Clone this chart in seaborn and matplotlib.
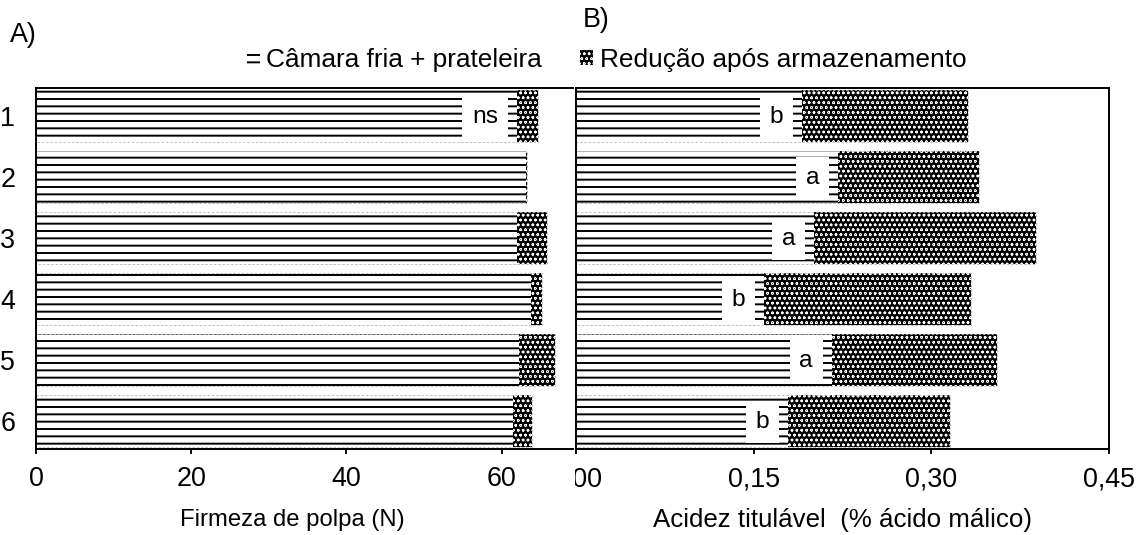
import matplotlib
matplotlib.use("Agg")
import matplotlib.pyplot as plt
import pandas as pd
import seaborn as sns
from matplotlib.patches import Patch, Rectangle

# Treatments (rows) and measured values
tratamentos = ["1", "2", "3", "4", "5", "6"]

# A) flesh firmness (N): value after cold storage + shelf, and loss during storage
firmeza_final = [62.0, 63.1, 62.0, 63.8, 62.2, 61.5]
firmeza_reducao = [2.7, 0.2, 3.8, 1.4, 4.7, 2.4]
firmeza_letras = ["ns", "", "", "", "", ""]

# B) titratable acidity (% malic acid)
acidez_final = [0.191, 0.2215, 0.201, 0.159, 0.216, 0.179]
acidez_reducao = [0.140, 0.1185, 0.187, 0.174, 0.139, 0.137]
acidez_letras = ["b", "a", "a", "b", "a", "b"]

xticks_a = [0, 20, 40, 60]
xticklabels_a = ["0", "20", "40", "60"]
xticks_b = [0.0, 0.15, 0.30, 0.45]
xticklabels_b = ["0,00", "0,15", "0,30", "0,45"]

serie_final = "Câmara fria + prateleira"
serie_reducao = "Redução após armazenamento"

DPI = 88
W, H = 1139, 535

sns.set_theme(style="white")
plt.rcParams["font.family"] = ["Liberation Sans", "DejaVu Sans"]
plt.rcParams["hatch.linewidth"] = 1.6
plt.rcParams["text.color"] = "black"
plt.rcParams["axes.labelcolor"] = "black"
plt.rcParams["xtick.color"] = "black"
plt.rcParams["ytick.color"] = "black"

fig = plt.figure(figsize=(W / DPI, H / DPI), dpi=DPI)
fig.patch.set_facecolor("white")


def px_axes(left, right, top, bottom):
    return fig.add_axes([left / W, 1 - bottom / H, (right - left) / W, (bottom - top) / H])


ax_b = px_axes(575.7, 1109.3, 88, 449)
ax_a = px_axes(36, 573, 88, 449)
ax_a.set_zorder(2)

BAR_H = 0.84
HL_HATCH = "--"
DOT_HATCH = "ooo"
DOT_LW = 0.6
TICK_FS = 22
TEXT_FS = 20
LEG_FS = 21.5


def draw_panel(ax, final, reducao, letras):
    total = [f + r for f, r in zip(final, reducao)]
    df = pd.DataFrame({"trat": tratamentos, "final": final, "total": total})
    common = dict(data=df, y="trat", order=tratamentos, orient="h",
                  width=BAR_H, errorbar=None, saturation=1, ax=ax)
    # full height before storage: dotted segment shows the loss
    with plt.rc_context({"hatch.linewidth": DOT_LW}):
        sns.barplot(x="total", color="black", hatch=DOT_HATCH,
                    edgecolor="white", linewidth=0, **common)
    # value after storage, striped
    sns.barplot(x="final", color="white", hatch=HL_HATCH,
                edgecolor="black", linewidth=0, **common)
    # thin light outline of each bar
    sns.barplot(x="total", color="#b8b8b8", fill=False, linewidth=0.7,
                linestyle=(0, (3, 2)), **common)
    for i, (f, lab) in enumerate(zip(final, letras)):
        if lab:
            ax.annotate(lab, xy=(f, i), xytext=(-15.5, -1), textcoords="offset points",
                        ha="right", va="center", fontsize=TEXT_FS,
                        bbox=dict(boxstyle="square,pad=0.4", fc="white", ec="none"),
                        zorder=6)
    ax.set_ylim(5.46, -0.46)
    ax.set_ylabel("")
    for s in ax.spines.values():
        s.set_color("black")
        s.set_linewidth(1.6)
    ax.tick_params(axis="x", direction="out", length=4.2, width=1.5,
                   pad=10, labelsize=TICK_FS, bottom=True)


draw_panel(ax_a, firmeza_final, firmeza_reducao, firmeza_letras)
draw_panel(ax_b, acidez_final, acidez_reducao, acidez_letras)

ax_a.set_xlim(0, 69.2)
ax_a.set_xticks(xticks_a)
ax_a.set_xticklabels(xticklabels_a)
ax_a.spines["right"].set_visible(False)
ax_a.tick_params(axis="y", length=0, pad=17, labelsize=TICK_FS, left=True)
ax_a.set_xlabel("Firmeza de polpa (N)", fontsize=19.5, labelpad=14)
ax_a.xaxis.label.set_x(0.478)

ax_b.set_xlim(0, 0.45)
ax_b.set_xticks(xticks_b)
ax_b.set_xticklabels(xticklabels_b)
ax_b.set_yticks([])
ax_b.set_xlabel("Acidez titulável  (% ácido málico)", fontsize=21.2, labelpad=13)

# panel A sits over the first tick label of panel B
ax_a.add_patch(Rectangle((0.945, -0.19), 0.0595, 0.16, transform=ax_a.transAxes,
                         clip_on=False, facecolor="white", edgecolor="none", zorder=0.5))

h_final = Patch(facecolor="white", edgecolor="black", hatch=HL_HATCH, linewidth=0)
with plt.rc_context({"hatch.linewidth": DOT_LW}):
    h_red = Patch(facecolor="black", edgecolor="white", hatch=DOT_HATCH, linewidth=0)
leg_kw = dict(frameon=False, handlelength=0.5, handleheight=0.5, handletextpad=0.25,
              borderpad=0, borderaxespad=0, fontsize=LEG_FS)
fig.legend([h_final], [serie_final], loc="center right",
           bbox_to_anchor=(542 / W, 1 - 60 / H), **leg_kw)
leg_b = fig.legend([h_red], [serie_reducao], loc="center left",
                   bbox_to_anchor=(580 / W, 1 - 60 / H), **leg_kw)
for hnd in leg_b.legend_handles:
    if hasattr(hnd, "set_hatch_linewidth"):
        hnd.set_hatch_linewidth(DOT_LW)

fig.text(10 / W, 1 - 35 / H, "A)", fontsize=TICK_FS, va="center", ha="left")
fig.text(583 / W, 1 - 20 / H, "B)", fontsize=TICK_FS, va="center", ha="left")

fig.savefig("out.png", dpi=DPI, facecolor="white")
